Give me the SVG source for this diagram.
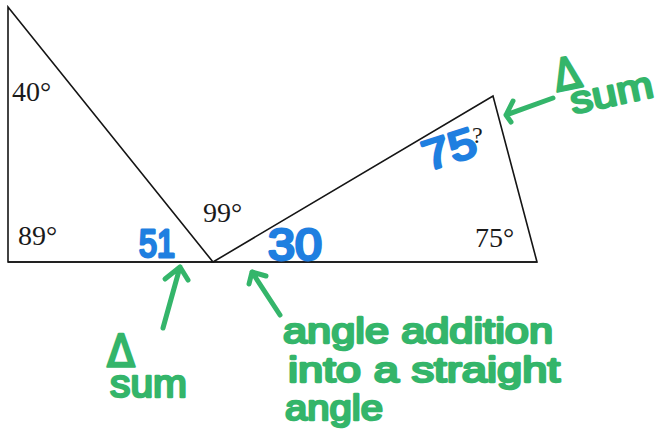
<svg xmlns="http://www.w3.org/2000/svg" width="663" height="436" viewBox="0 0 663 436">
<style>
.ln{fill:none;stroke:#151515;stroke-width:1.6;stroke-linejoin:miter}
.deg{font-family:"Liberation Serif","Times New Roman",serif;font-size:28px;fill:#1a1a1a}
.blue{font-family:"Liberation Sans",Arial,sans-serif;font-weight:400;fill:#1f7fe0;stroke:#1f7fe0;stroke-width:3;stroke-linejoin:round;stroke-linecap:round}
.green{font-family:"Liberation Sans",Arial,sans-serif;font-weight:400;fill:#34b56a;stroke:#34b56a;stroke-width:2.4;stroke-linejoin:round;stroke-linecap:round}
.delta{font-family:"DejaVu Sans",sans-serif;font-size:44px}
.arr{fill:none;stroke:#34b56a;stroke-width:5;stroke-linecap:round;stroke-linejoin:round}
</style>
<rect width="663" height="436" fill="#ffffff"/>
<g id="left-triangle">
<polygon class="ln" points="8,7 8,262 213,262"/>
<text class="deg" x="12" y="101">40°</text>
<text class="deg" x="18" y="245">89°</text>
</g>
<g id="baseline">
<line class="ln" x1="8" y1="262" x2="537" y2="262"/>
<text class="deg" x="203" y="222">99°</text>
</g>
<g id="right-triangle">
<polygon class="ln" points="213,262 493,96 537,262"/>
<text class="deg" x="475" y="247">75°</text>
</g>
<g id="blue-labels">
<text class="blue" x="139" y="257" font-size="38" textLength="36" lengthAdjust="spacingAndGlyphs">51</text>
<text class="blue" x="268" y="260" font-size="44" textLength="54" lengthAdjust="spacingAndGlyphs">30</text>
<text class="blue" x="428" y="171" font-size="42" textLength="54" lengthAdjust="spacingAndGlyphs" transform="rotate(-18 428 171)">75</text>
<text x="472" y="143" font-family="Liberation Serif, serif" font-size="24" fill="#1a1a1a">?</text>
</g>
<g id="connectors">
<path class="arr" d="M163,328 L180,267 M165,279 L180,267 L188,280"/>
<path class="arr" d="M280,315 L252,272 M249,284 L252,272 L266,276"/>
<path class="arr" d="M553,98 L506,115 M513,101 L506,115 L511,122"/>
</g>
<g id="note-sum-bottom">
<text class="green" font-size="38"><tspan class="delta" x="107" y="367" textLength="28" lengthAdjust="spacingAndGlyphs">Δ</tspan><tspan x="110" y="397" textLength="77" lengthAdjust="spacingAndGlyphs">sum</tspan></text>
</g>
<g id="note-sum-top">
<text class="green" font-size="38" transform="rotate(-12 573 114)"><tspan class="delta" x="562" y="89" textLength="27" lengthAdjust="spacingAndGlyphs">Δ</tspan><tspan x="573" y="114" textLength="84" lengthAdjust="spacingAndGlyphs">sum</tspan></text>
</g>
<g id="note-angle-addition">
<text class="green" font-size="35"><tspan x="283" y="343" textLength="270" lengthAdjust="spacingAndGlyphs">angle addition</tspan><tspan x="288" y="382" textLength="272" lengthAdjust="spacingAndGlyphs">into a straight</tspan><tspan x="285" y="420" textLength="98" lengthAdjust="spacingAndGlyphs">angle</tspan></text>
</g>
</svg>
